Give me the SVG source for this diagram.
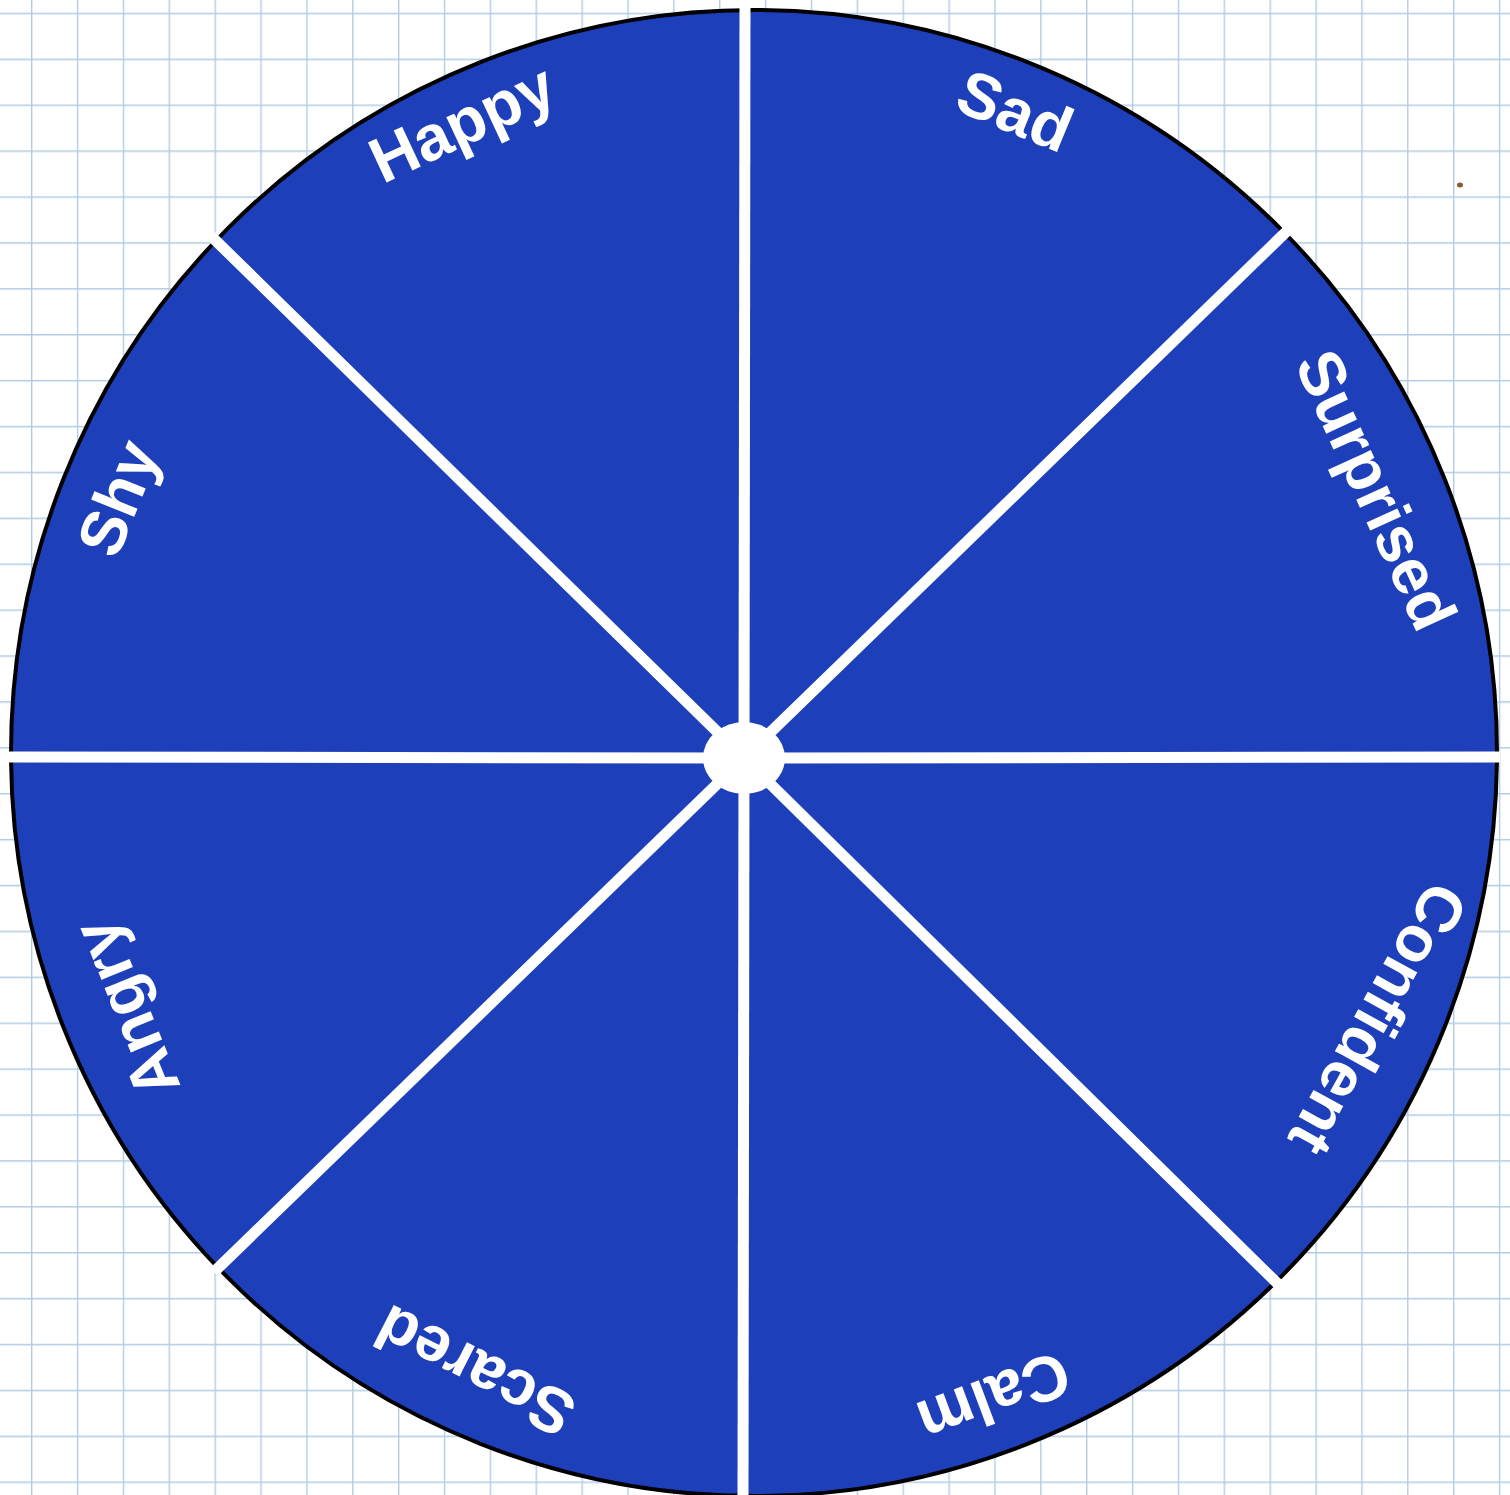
<svg xmlns="http://www.w3.org/2000/svg" width="1510" height="1495" viewBox="0 0 1510 1495">
  <defs>
    <pattern id="grid" patternUnits="userSpaceOnUse" x="31" y="12.7" width="45.87" height="45.9">
      <path d="M0.7 0V45.9M0 0.7H45.87" fill="none" stroke="#b2cbe5" stroke-width="1.4"/>
    </pattern>
    <style>
      .lbl { font-family: "Liberation Sans", Arial, sans-serif; font-weight: bold; font-size: 64px; fill: #ffffff; text-anchor: middle; dominant-baseline: central; }
      .spoke { stroke: #ffffff; stroke-width: 11; stroke-linecap: butt; fill: none; }
    </style>
  </defs>
  <rect id="paper" x="0" y="0" width="1510" height="1495" fill="#ffffff"/>
  <rect id="grid-lines" x="0" y="0" width="1510" height="1495" fill="url(#grid)"/>
  <ellipse id="speck" cx="1460" cy="185" rx="3" ry="2.5" fill="#8b5a2b"/>
  <g id="wheel">
    <circle cx="754" cy="753" r="743" fill="#1d3fb9" stroke="#000000" stroke-width="4"/>
  </g>
  <g id="spokes">
    <line class="spoke" x1="745" y1="4" x2="744" y2="758"/>
    <line class="spoke" x1="744" y1="758" x2="743" y2="1500"/>
    <line class="spoke" x1="8" y1="757" x2="744" y2="758"/>
    <line class="spoke" x1="744" y1="758" x2="1500" y2="757"/>
    <line class="spoke" x1="211" y1="236" x2="744" y2="758"/>
    <line class="spoke" x1="744" y1="758" x2="1279" y2="1285"/>
    <line class="spoke" x1="1287" y1="231" x2="744" y2="758"/>
    <line class="spoke" x1="744" y1="758" x2="214" y2="1272"/>
  </g>
  <g id="hub">
    <ellipse cx="744" cy="758" rx="41" ry="36" fill="#ffffff"/>
  </g>
  <g id="label-happy"><text class="lbl" transform="translate(462 123) rotate(-25)">Happy</text></g>
  <g id="label-sad"><text class="lbl" transform="translate(1015 111) rotate(22.5)">Sad</text></g>
  <g id="label-surprised"><text class="lbl" transform="translate(1376 490) rotate(65.5)">Surprised</text></g>
  <g id="label-confident"><text class="lbl" transform="translate(1378 1019) rotate(119)">Confident</text></g>
  <g id="label-calm"><text class="lbl" transform="translate(994 1398) rotate(159.5)">Calm</text></g>
  <g id="label-scared"><text class="lbl" transform="translate(475 1371) rotate(207)">Scared</text></g>
  <g id="label-angry"><text class="lbl" transform="translate(126 1009) rotate(248)">Angry</text></g>
  <g id="label-shy"><text class="lbl" transform="translate(118 498) rotate(292)">Shy</text></g>
</svg>
